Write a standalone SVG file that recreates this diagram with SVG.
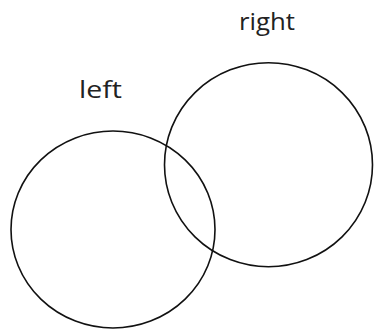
<svg xmlns="http://www.w3.org/2000/svg" width="374" height="329" viewBox="0 0 374 329">
<style>
.c{fill:none;stroke:#111;stroke-width:1.6}
.t{font-family:"Open Sans","Liberation Sans",sans-serif;font-size:24px;fill:#222}
</style>
<rect width="374" height="329" fill="#fff"/>
<g id="left">
<ellipse class="c" cx="113" cy="229.5" rx="102" ry="98.5"/>
<text class="t" x="79" y="98" textLength="43" lengthAdjust="spacingAndGlyphs">left</text>
</g>
<g id="right">
<ellipse class="c" cx="268.5" cy="164.7" rx="104" ry="102"/>
<text class="t" x="239" y="30" textLength="56" lengthAdjust="spacingAndGlyphs">right</text>
</g>
<g id="connectors"/>
</svg>
